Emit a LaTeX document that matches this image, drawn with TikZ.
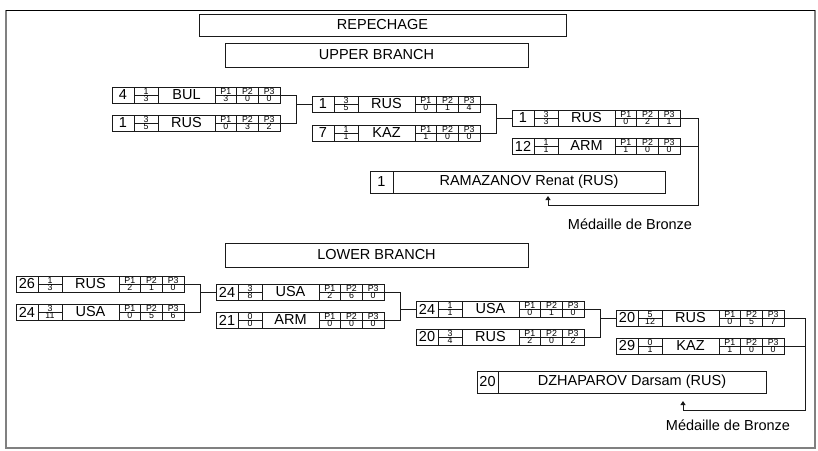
\documentclass[tikz,border=0pt]{standalone}
\usepackage{fontspec}
\setmainfont{Liberation Sans}
\usetikzlibrary{
  positioning,
  arrows.meta
}
\definecolor{rim}{HTML}{808080}
\definecolor{ink}{HTML}{1A1A1A}

\newcommand{\bigfont}{\fontsize{14.5}{14.5}\selectfont}
\newcommand{\minifont}{\fontsize{8.8}{8.8}\selectfont}

% one row of a bout: name, position, seed, fraction, nation, three periods
\newcommand{\bout}[9]{%
  \node[cell, minimum width=22pt, anchor=north west, font=\bigfont] (#1-s) at (#2) {#3};
  \node[cell, minimum width=24pt, anchor=north west] (#1-f) at (#1-s.north east) {};
  \node[cell, minimum width=57pt, anchor=north west, font=\bigfont] (#1-n) at (#1-f.north east) {#6};
  \node[cell, minimum width=21.67pt, anchor=north west] (#1-p1) at (#1-n.north east) {};
  \node[cell, minimum width=21.67pt, anchor=north west] (#1-p2) at (#1-p1.north east) {};
  \node[cell, minimum width=21.67pt, anchor=north west] (#1-p3) at (#1-p2.north east) {};
  \draw[rule] (#1-f.west) -- (#1-f.east);
  \draw[rule] (#1-p1.west) -- (#1-p3.east);
  \node[mini, above] (#1-fa) at (#1-f.center) {#4};
  \node[mini, below] (#1-fb) at (#1-f.center) {#5};
  \node[mini, above] (#1-h1) at (#1-p1.center) {P1};
  \node[mini, above] (#1-h2) at (#1-p2.center) {P2};
  \node[mini, above] (#1-h3) at (#1-p3.center) {P3};
  \node[mini, below] (#1-v1) at (#1-p1.center) {#7};
  \node[mini, below] (#1-v2) at (#1-p2.center) {#8};
  \node[mini, below] (#1-v3) at (#1-p3.center) {#9};
}

\begin{document}
\begin{tikzpicture}[
  x=1pt, y=-1pt,
  cell/.style={draw=ink, line width=0.8pt, minimum height=16pt, inner sep=0pt, outer sep=0pt},
  rule/.style={draw=ink, line width=0.6pt},
  mini/.style={font=\minifont, inner sep=0.5pt},
  banner/.style={draw=ink, line width=1pt, minimum height=22pt, inner sep=0pt, font=\bigfont},
  wcell/.style={draw=ink, line width=0.9pt, minimum height=22pt, inner sep=0pt, outer sep=0pt,
                font=\bigfont},
  medal/.style={font=\bigfont, inner sep=0pt},
  link/.style={draw=ink, line width=0.8pt},
  tip/.style={-{Triangle[length=4pt, width=5pt]}}
]
  \useasboundingbox (0,0) rectangle (818,450);

  % Frame
  \draw[rim, line width=1.6pt] (6,10) -- (6,448) -- (815,448) -- (815,10);
  \draw[black, line width=0.8pt] (6,10) -- (815,10);

  % Titles
  \node[banner, minimum width=367pt] (repechage) at (382.5,25) {REPECHAGE};
  \node[banner, minimum width=303pt, minimum height=24pt] (upper) at (376.5,55) {UPPER BRANCH};
  \node[banner, minimum width=303pt, minimum height=24pt] (lower) at (376.5,255) {LOWER BRANCH};

  % Upper branch
  \bout{u1a}{112,87}{4}{1}{3}{BUL}{3}{0}{0}
  \bout{u1b}{112,115}{1}{3}{5}{RUS}{0}{3}{2}
  \bout{u2a}{312,96}{1}{3}{5}{RUS}{0}{1}{4}
  \bout{u2b}{312,125}{7}{1}{1}{KAZ}{1}{0}{0}
  \bout{u3a}{512,110}{1}{3}{3}{RUS}{0}{2}{1}
  \bout{u3b}{512,138}{12}{1}{1}{ARM}{1}{0}{0}

  \node[wcell, minimum width=23pt, anchor=north west] (uw-s) at (370,171) {1};
  \node[wcell, minimum width=272pt, anchor=north west] (uw-n) at (uw-s.north east) {RAMAZANOV Renat (RUS)};

  \draw[link] (u1a-p3.east) -- ++(16,0) |- (u1b-p3.east);
  \draw[link] (u2a-s.west) -- ++(-16,0);
  \draw[link] (u2a-p3.east) -- ++(16,0) |- (u2b-p3.east);
  \draw[link] (u3a-s.west) -- ++(-16,0);

  \coordinate (ubend) at (698,205);
  \coordinate (ufoot) at (548,205);
  \draw[link, tip] (u3a-p3.east) -| (ubend) -- (ufoot) -- ++(0,-9);
  \draw[link] (u3b-p3.east) -- (u3b-p3.east -| ubend);
  \node[medal] (umedal) at (630,224) {Médaille de Bronze};

  % Lower branch
  \bout{l1a}{16,276}{26}{1}{3}{RUS}{2}{1}{0}
  \bout{l1b}{16,304}{24}{3}{11}{USA}{0}{5}{6}
  \bout{l2a}{216,284}{24}{3}{8}{USA}{2}{6}{0}
  \bout{l2b}{216,312}{21}{0}{0}{ARM}{0}{0}{0}
  \bout{l3a}{416,301}{24}{1}{1}{USA}{0}{1}{0}
  \bout{l3b}{416,329}{20}{3}{4}{RUS}{2}{0}{2}
  \bout{l4a}{616,310}{20}{5}{12}{RUS}{0}{5}{7}
  \bout{l4b}{616,338}{29}{0}{1}{KAZ}{1}{0}{0}

  \node[wcell, minimum width=21pt, anchor=north west] (lw-s) at (477,371) {20};
  \node[wcell, minimum width=268pt, anchor=north west] (lw-n) at (lw-s.north east) {DZHAPAROV Darsam (RUS)};

  \draw[link] (l1a-p3.east) -- ++(16,0) |- (l1b-p3.east);
  \draw[link] (l2a-s.west) -- ++(-16,0);
  \draw[link] (l2a-p3.east) -- ++(16,0) |- (l2b-p3.east);
  \draw[link] (l3a-s.west) -- ++(-16,0);
  \draw[link] (l3a-p3.east) -- ++(16,0) |- (l3b-p3.east);
  \draw[link] (l4a-s.west) -- ++(-16,0);

  \coordinate (lbend) at (805,410);
  \coordinate (lfoot) at (683,410);
  \draw[link, tip] (l4a-p3.east) -| (lbend) -- (lfoot) -- ++(0,-9);
  \draw[link] (l4b-p3.east) -- (l4b-p3.east -| lbend);
  \node[medal] (lmedal) at (728,425) {Médaille de Bronze};
\end{tikzpicture}
\end{document}
